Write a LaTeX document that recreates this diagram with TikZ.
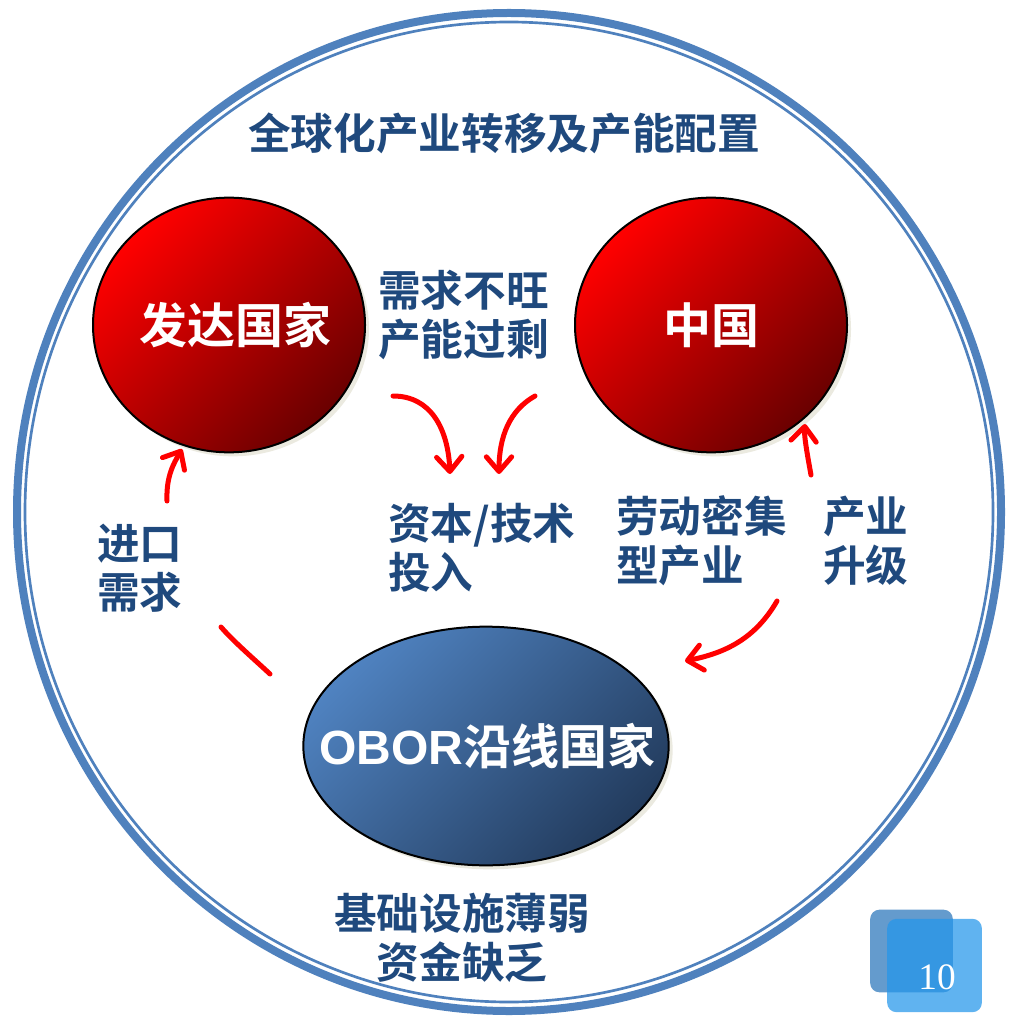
\documentclass[tikz,border=0pt]{standalone}
\usepackage{fontspec}
\newfontfamily\cjk{Noto Sans CJK SC}[BoldFont=* Bold]
\newfontfamily\arialf{Liberation Sans}
\newfontfamily\timesf{Liberation Serif}
\usetikzlibrary{shapes.geometric,arrows.meta,shadows}
\definecolor{txtblue}{HTML}{1F497D}
\definecolor{ringblue}{HTML}{4F81BD}
\definecolor{redhi}{HTML}{FF0000}
\definecolor{reddk}{HTML}{6A0000}
\definecolor{bluehi}{HTML}{4F82C0}
\definecolor{bluedk}{HTML}{233C5E}
\definecolor{arrred}{HTML}{FF0000}
\definecolor{backsq}{HTML}{649BCD}
\definecolor{frontsq}{HTML}{2496EB}
\definecolor{shadowc}{HTML}{C8C4A8}
\begin{document}
\begin{tikzpicture}[x=0.75pt,y=-0.75pt,
  lbl/.style={text=txtblue, font=\cjk\bfseries\fontsize{32}{37}\selectfont, align=left, inner sep=0pt},
  ball/.style={ellipse, draw=black, line width=1.5pt, inner sep=0pt, text=white,
     font=\cjk\bfseries\fontsize{36}{40}\selectfont,
     drop shadow={shadow xshift=3pt, shadow yshift=-3pt, fill=shadowc, opacity=0.35}},
  redball/.style={ball, top color=redhi, bottom color=reddk, shading angle=45,
     minimum width=204pt, minimum height=191pt},
  blueball/.style={ball, top color=bluehi, bottom color=bluedk, shading angle=45,
     minimum width=274pt, minimum height=179pt},
  redarr/.style={draw=arrred, line width=3.75pt, line cap=round,
     -{Straight Barb[length=11pt,width=19pt,round]}},
  redline/.style={draw=arrred, line width=3.75pt, line cap=round}
]
\useasboundingbox (0,0) rectangle (1009,1019);
\fill[white] (0,0) rectangle (1009,1019);

% outer ring
\draw[ringblue, line width=6pt] (509,512) ellipse [x radius=492, y radius=499];
\draw[ringblue, line width=2pt] (509,512) ellipse [x radius=484, y radius=490];

% title
\node[lbl, anchor=center] (title) at (504,133) {全球化产业转移及产能配置};

% balls
\node[redball] (dev) at (229,325) {\makebox[0pt]{\hspace*{9pt}发达国家}};
\node[redball] (cn) at (711,325) {\makebox[0pt]{中国}};
\node[blueball] (obor) at (486,746) {\makebox[0pt]{\hspace*{2pt}{\arialf\bfseries OBOR}沿线国家}};

% labels
\node[lbl, anchor=west] (t1) at (378,315) {需求不旺\\产能过剩};
\node[lbl, anchor=west] (t2) at (388,548) {资本/技术\\投入};
\node[lbl, anchor=west] (t3) at (616,541) {劳动密集\\型产业};
\node[lbl, anchor=west] (t4) at (823,541) {产业\\升级};
\node[lbl, anchor=west] (t5) at (97,568) {进口\\需求};
\node[lbl, align=center, anchor=center] (t6) at (462,938) {基础设施薄弱\\资金缺乏};

% arrow coordinates
\coordinate (a1s) at (393,396);
\coordinate (a1e) at (450,474);
\coordinate (a2s) at (535,396);
\coordinate (a2e) at (499,474);
\coordinate (a3s) at (811,475);
\coordinate (a3e) at (805,424);
\coordinate (a4s) at (777,601);
\coordinate (a4e) at (685,661);
\coordinate (a5s) at (270,674);
\coordinate (a5e) at (221,627);
\coordinate (a6s) at (167,501);
\coordinate (a6e) at (182,449);

\draw[redarr] (a1s) .. controls +(38,0) and +(-2,-45) .. (a1e);
\draw[redarr] (a2s) .. controls +(-25,14) and +(0,-38) .. (a2e);
\draw[redarr] (a3s) .. controls +(-4,-22) and +(-1,12) .. (a3e);
\draw[redarr] (a4s) .. controls +(-22,38) and +(40,-8) .. (a4e);
\draw[redline] (a5s) .. controls +(-15,-14) and +(12,14) .. (a5e);
\draw[redarr] (a6s) .. controls +(-1,-25) and +(-8,14) .. (a6e);

% page number
\node[draw=none, fill=backsq, rounded corners=7pt, minimum width=62pt, minimum height=62pt, inner sep=0pt] (pgback) at (911.5,951) {};
\node[draw=none, fill=frontsq, fill opacity=0.72, rounded corners=7pt, minimum width=71pt, minimum height=70pt, inner sep=0pt] (pgfront) at (934.5,965.5) {};
\node[text=white, font=\timesf\fontsize{28}{30}\selectfont, inner sep=0pt] (pgnum) at (937,977) {10};
\end{tikzpicture}
\end{document}
